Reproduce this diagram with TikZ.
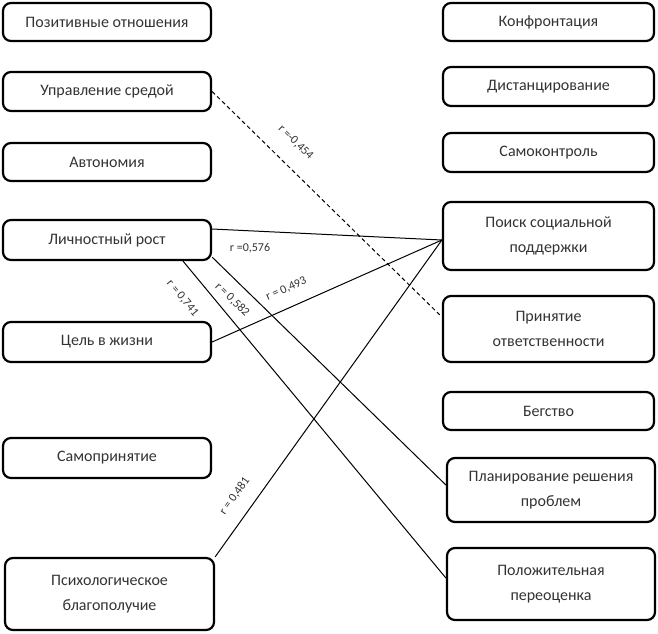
\documentclass[tikz,border=0pt]{standalone}
\usepackage{fontspec}
\setmainfont{Carlito}
\usetikzlibrary{positioning}
\tikzset{
  box/.style={draw=black, line width=2.2pt, rounded corners=8pt, inner sep=0pt,
    align=center, text=black!80, font=\fontsize{16}{25}\selectfont},
  conn/.style={draw=black, line width=1pt},
  rlab/.style={inner sep=0pt, text=black!80, font=\fontsize{12}{14}\selectfont}
}
\begin{document}
\begin{tikzpicture}[x=1pt,y=-1pt]
\useasboundingbox (0,0) rectangle (658,633);
% left column
\node[box, minimum width=208pt, minimum height=38pt] (po1) at (107,22) {Позитивные отношения};
\node[box, minimum width=208pt, minimum height=39pt] (us) at (107,91.5) {Управление средой};
\node[box, minimum width=208pt, minimum height=38pt] (av) at (107,162) {Автономия};
\node[box, minimum width=208pt, minimum height=40pt] (lr) at (107,240) {Личностный рост};
\node[box, minimum width=208pt, minimum height=40pt] (cz) at (107,342) {Цель в жизни};
\node[box, minimum width=208pt, minimum height=40pt] (sp) at (107,458) {Самопринятие};
\node[box, minimum width=209pt, minimum height=72pt] (pb) at (109.5,594) {Психологическое\\благополучие};
% right column
\node[box, minimum width=211pt, minimum height=38pt] (kf) at (548.5,22) {Конфронтация};
\node[box, minimum width=211pt, minimum height=39pt] (ds) at (548.5,86.5) {Дистанцирование};
\node[box, minimum width=211pt, minimum height=39pt] (sk) at (548.5,152.5) {Самоконтроль};
\node[box, minimum width=211pt, minimum height=68pt] (ps) at (548.5,236) {Поиск социальной\\поддержки};
\node[box, minimum width=211pt, minimum height=66pt] (pr) at (548.5,329) {Принятие\\ответственности};
\node[box, minimum width=211pt, minimum height=38pt] (bg) at (548.5,411) {Бегство};
\node[box, minimum width=208pt, minimum height=64pt] (pl) at (551,490) {Планирование решения\\проблем};
\node[box, minimum width=208pt, minimum height=72pt] (pp) at (551,584) {Положительная\\переоценка};
% hub point on Поиск социальной поддержки
\coordinate (hub) at ([yshift=-4pt]ps.west);
% connectors
\draw[conn, dashed, dash pattern=on 4pt off 3pt] (us.east) -- ([yshift=12pt]pr.west)
  node[rlab, pos=0.296, sloped, above=17pt] (l1) {r =-0,454};
\draw[conn] ([yshift=11pt]lr.east) -- (hub)
  node[rlab, pos=0.165, below=12pt] (l2) {r =0,576};
\draw[conn] (cz.east) -- (hub)
  node[rlab, pos=0.355, sloped, above=13pt] (l3) {r = 0,493};
\draw[conn] (pb.north east) -- (hub)
  node[rlab, pos=0.156, sloped, above=14pt] (l4) {r = 0,481};
\draw[conn] ([yshift=4pt]lr.south east) -- ([yshift=5pt]pl.west)
  node[rlab, pos=0.135, sloped, below=11pt] (l5) {r = 0,582};
\draw[conn] ([xshift=76pt]lr.south) -- ([yshift=6pt]pp.west)
  node[rlab, pos=0.069, sloped, below=19pt] (l6) {r = 0,741};
\end{tikzpicture}
\end{document}
